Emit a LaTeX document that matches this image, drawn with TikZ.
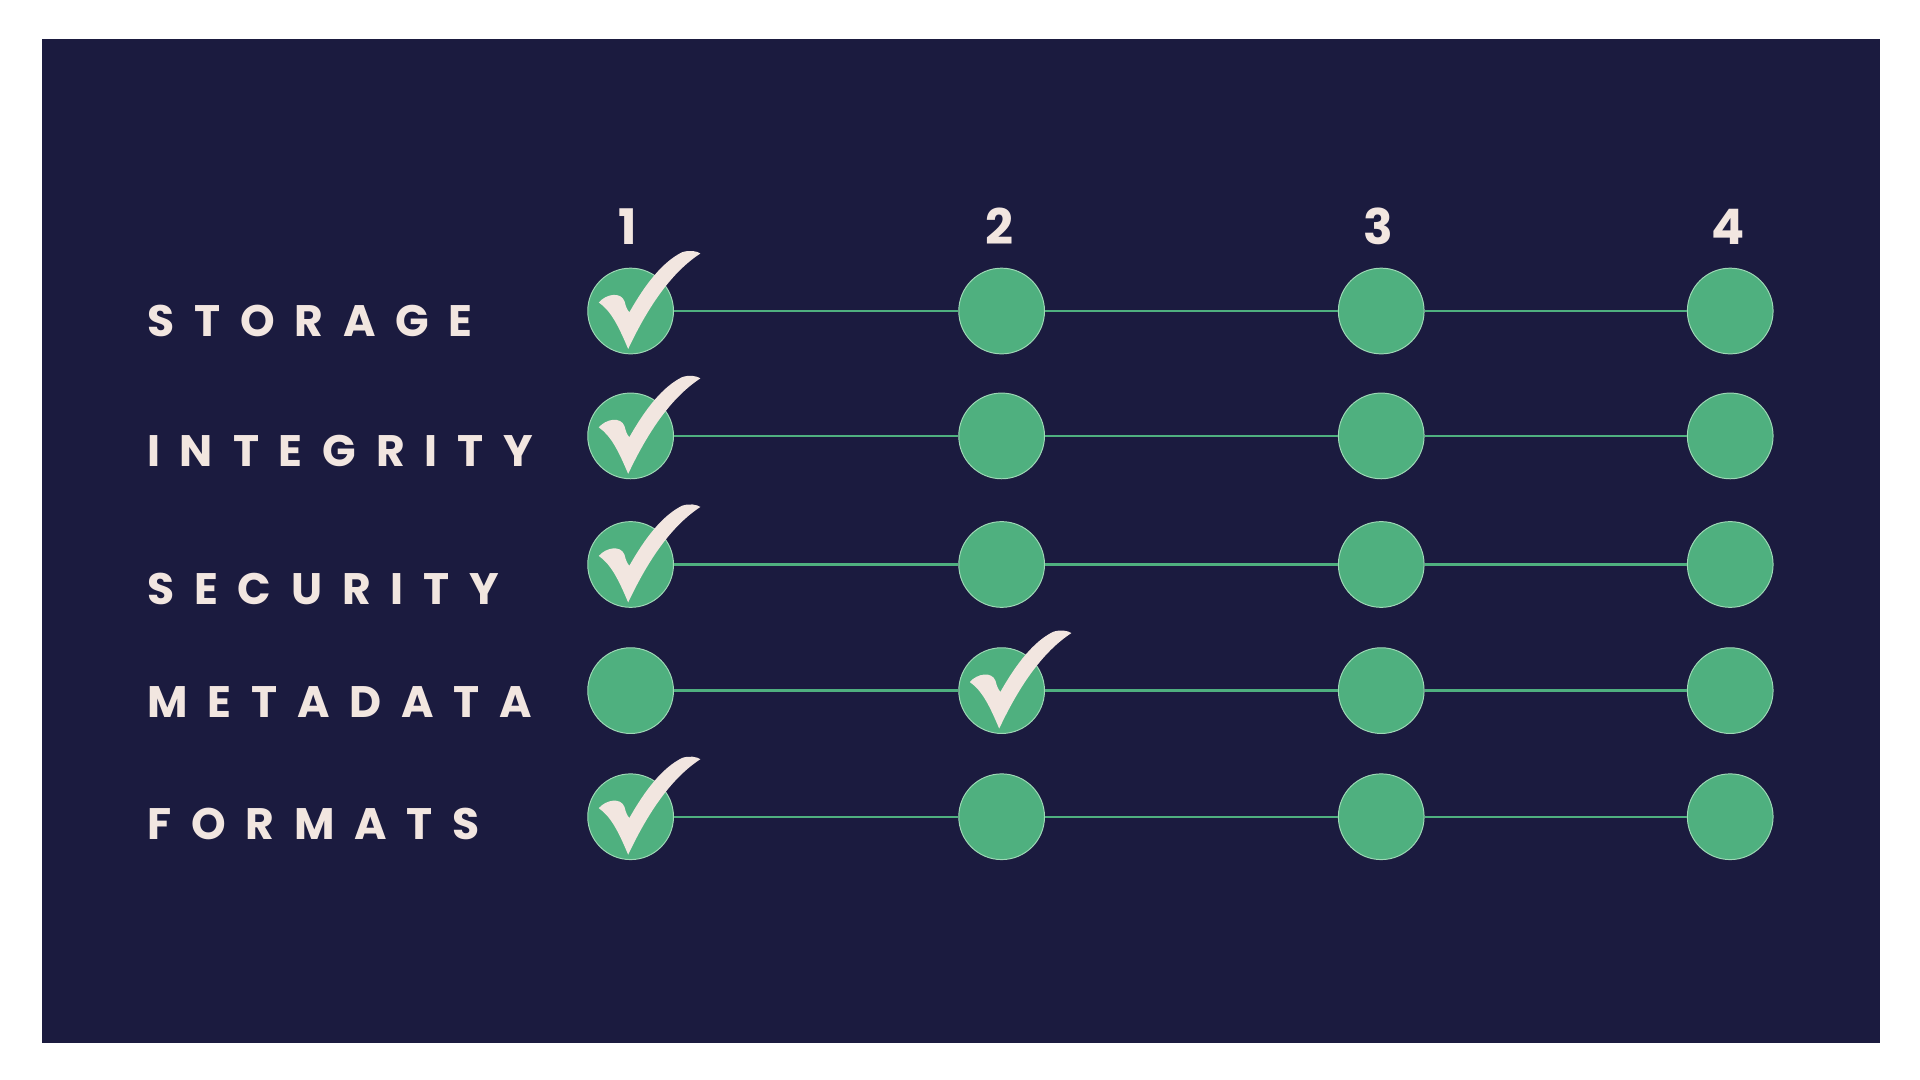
\documentclass[tikz,border=0pt]{standalone}
\usepackage{fontspec}
\setmainfont{Poppins}
\newfontfamily\lblfont[LetterSpace=45]{Poppins Bold}
\newfontfamily\numfont{Poppins Bold}
\definecolor{bg}{HTML}{1B1B3F}
\definecolor{dot}{HTML}{4FB07F}
\definecolor{dotline}{HTML}{9ED8B6}
\definecolor{cream}{HTML}{F2E6E0}
\tikzset{
  dotnode/.style={circle,fill=dot,draw=dotline,line width=0.8pt,minimum size=70pt,inner sep=0pt},
  lbl/.style={anchor=west,text=cream,font=\lblfont\fontsize{36pt}{36pt}\selectfont,inner sep=0pt},
  num/.style={text=cream,font=\numfont\fontsize{40pt}{40pt}\selectfont,inner sep=0pt},
  conn/.style={draw=dot,line width=2pt},
  chk/.pic={\fill[cream] (-2,31) .. controls (-10,12) and (-16,0) .. (-26,-7)
     .. controls (-20,-14) and (-8,-16) .. (-5,-8)
     .. controls (-4,-4) and (-3,-1) .. (-1,1)
     .. controls (12,-22) and (26,-40) .. (42,-48)
     .. controls (48,-50) and (54,-49) .. (57,-47)
     .. controls (34,-32) and (15,-5) .. (-2,31) -- cycle;}
}
\begin{document}
\begin{tikzpicture}[x=1pt,y=-1pt]
\useasboundingbox (0,0) rectangle (1568,882);
\fill[bg] (34,32) rectangle (1535,852);
\foreach \n/\x in {1/515,2/818,3/1128,4/1413}{\node[num] (n\n) at (\x-2,185) {\n};}
\foreach \r/\y/\t/\ty in {a/254/STORAGE/262,b/356/INTEGRITY/368,c/461/SECURITY/481,d/564/METADATA/573,e/667/FORMATS/673}{
  \node[lbl] (l\r) at (120,\ty) {\t};
  \foreach \c/\x in {1/515,2/818,3/1128,4/1413}{\node[dotnode] (\r\c) at (\x,\y) {};}
  \draw[conn] (\r1) -- (\r2) (\r2) -- (\r3) (\r3) -- (\r4);
}
\foreach \r/\c in {a/1,b/1,c/1,d/2,e/1}{\pic at (\r\c) {chk};}
\end{tikzpicture}
\end{document}
